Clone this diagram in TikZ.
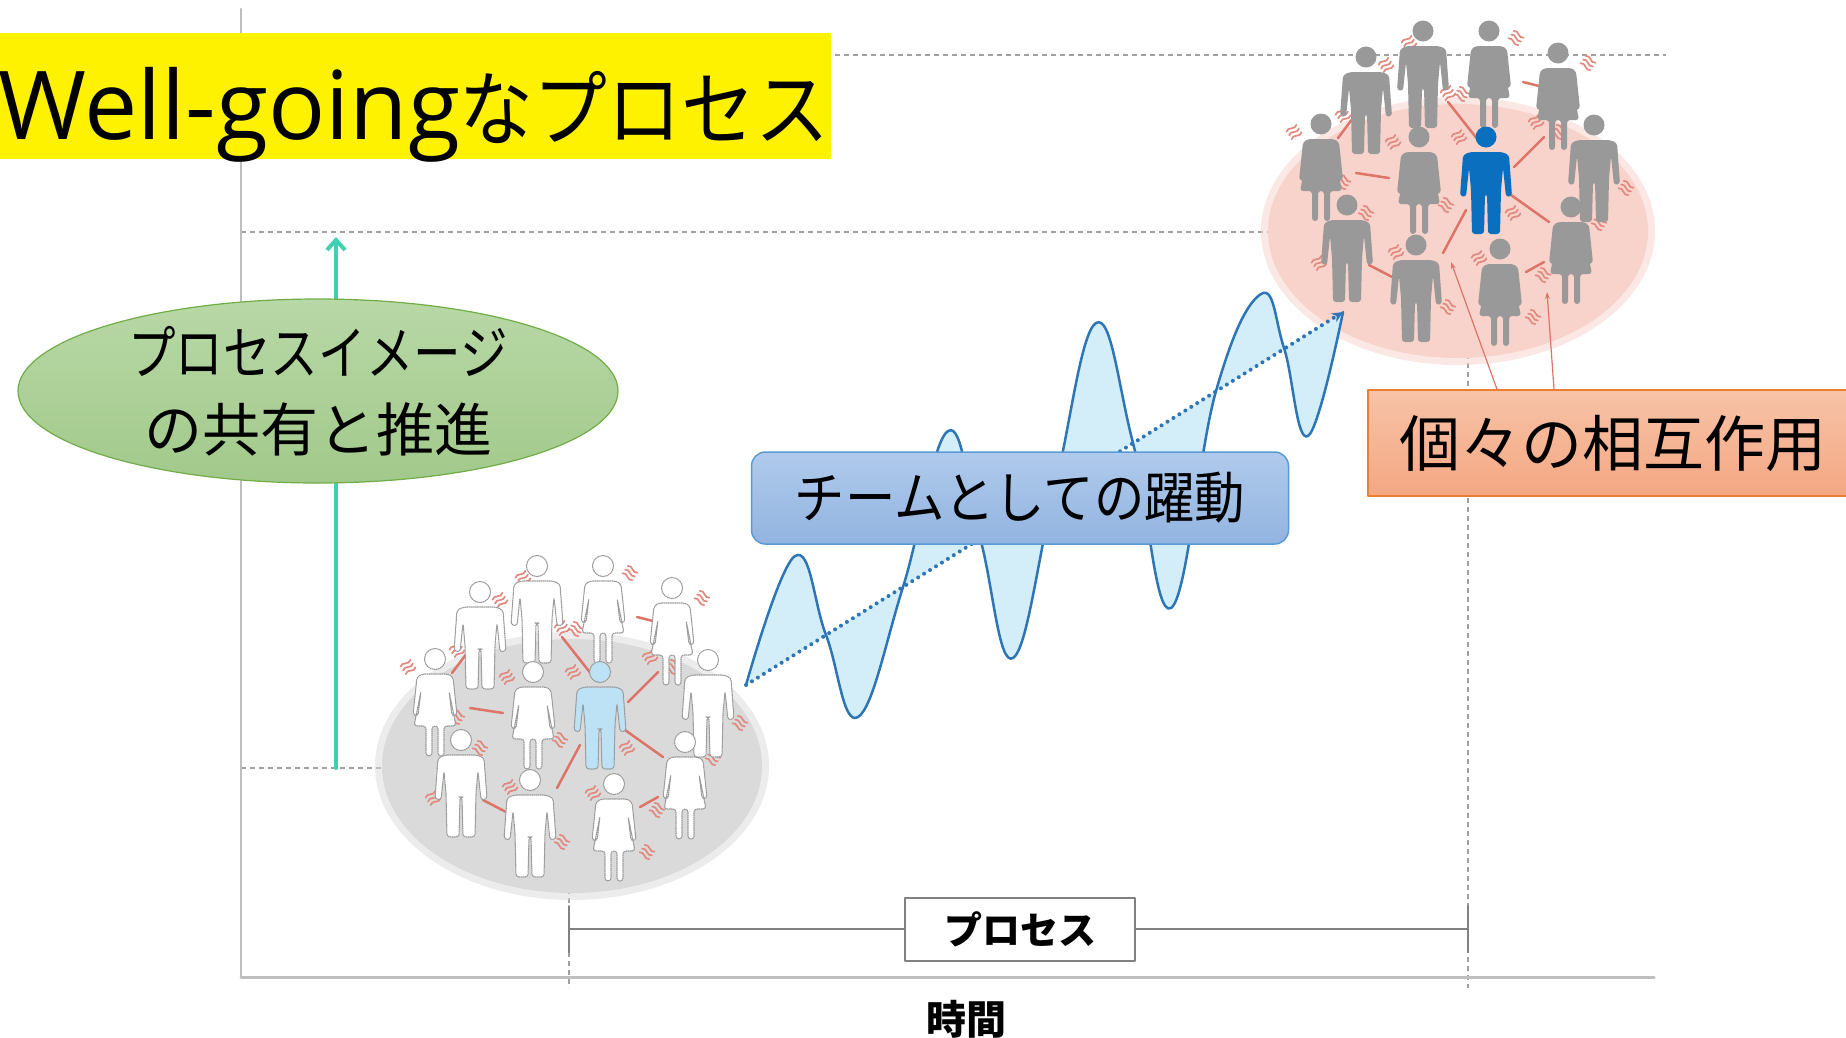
\documentclass[tikz,border=0pt]{standalone}
\usepackage{fontspec}
\setmainfont{Noto Sans CJK JP}
\newfontfamily\latinfont{Open Sans}
\usetikzlibrary{shapes.geometric,arrows.meta}
\definecolor{axisgray}{HTML}{BFBFBF}
\definecolor{dashgray}{HTML}{A0A0A0}
\definecolor{tealup}{HTML}{3FD0B0}
\definecolor{waveblue}{HTML}{2E75B6}
\definecolor{wavefill}{HTML}{D3EEF9}
\definecolor{crowdgray}{HTML}{DADADA}
\definecolor{crowdpink}{HTML}{F8D3CB}
\definecolor{figgray}{HTML}{999999}
\definecolor{figblue}{HTML}{0B6FC0}
\definecolor{figlight}{HTML}{BDE1F5}
\definecolor{figline}{HTML}{9A9A9A}
\definecolor{linkred}{HTML}{DC7468}
\definecolor{ideaedge}{HTML}{70AD47}
\definecolor{ideatop}{HTML}{B8D8A6}
\definecolor{ideabot}{HTML}{A2C98B}
\definecolor{teamedge}{HTML}{5B9BD5}
\definecolor{teamtop}{HTML}{B0CAEC}
\definecolor{teambot}{HTML}{92B4E0}
\definecolor{interedge}{HTML}{ED7D31}
\definecolor{intertop}{HTML}{F7C3A7}
\definecolor{interbot}{HTML}{F4A783}
\begin{document}
\begin{tikzpicture}[x=1pt,y=-1pt,>=stealth,line join=round,line cap=round,
	axis/.style={axisgray,line width=2.5},
	guide/.style={dashgray,line width=1.5,dash pattern=on 5pt off 4pt,line cap=butt},
	link/.style={linkred,line width=2.5},
	buzz line/.style={linkred!85,line width=1.7},
	bracket/.style={gray,line width=2},
	idea/.style={ellipse,draw=ideaedge,line width=1.2,top color=ideatop,bottom color=ideabot,minimum width=600,minimum height=184,inner sep=0,align=center,font=\fontsize{58}{77}\selectfont},
	team/.style={rectangle,rounded corners=14,draw=teamedge,line width=1.5,top color=teamtop,bottom color=teambot,minimum width=537,minimum height=92,font=\fontsize{56}{56}\selectfont},
	inter/.style={rectangle,draw=interedge,line width=1.5,top color=intertop,bottom color=interbot,minimum width=490,minimum height=106,font=\fontsize{61}{61}\selectfont},
	proc/.style={rectangle,draw=gray,line width=2,fill=white,minimum width=230,minimum height=63,font=\fontsize{38}{38}\selectfont\bfseries},
	man/.pic={
		\path[pic actions] (0,-1) circle (10.5pt);
		\path[pic actions,rounded corners=3pt] (-16,14) -- (16,14) -- (23,17) -- (26,58) -- (20,59) -- (17,30) -- (15,52) -- (14,96) -- (2,96) -- (1,56) -- (-1,56) -- (-2,96) -- (-14,96) -- (-15,52) -- (-17,30) -- (-20,59) -- (-26,58) -- (-23,17) -- cycle;
	},
	woman/.pic={
		\path[pic actions] (0,-1) circle (10.5pt);
		\path[pic actions,rounded corners=3pt] (-13,14) -- (13,14) -- (18,17) -- (22,55) -- (17,56) -- (14,31) -- (21,66) -- (9,66) -- (9,96) -- (3,96) -- (3,66) -- (-3,66) -- (-3,96) -- (-9,96) -- (-9,66) -- (-21,66) -- (-14,31) -- (-17,56) -- (-22,55) -- (-18,17) -- cycle;
	},
	buzz/.pic={
		\foreach \i in {-4.5,0,4.5} \draw[buzz line] (-6,\i) .. controls (-2,\i-4) and (2,\i+4) .. (6,\i);
	}]
	\useasboundingbox (0,0) rectangle (1846,1037);
	\fill[white] (0,0) rectangle (1846,1037);
	\clip (0,0) rectangle (1846,1037);
	%\draw[gray!20] (0,0) grid[step=100] (1846,1037);
	% nhóm người: #1 tâm, #2 nền, #3 kiểu người, #4 người ở giữa
	\def\crowd#1#2#3#4{
		\begin{scope}[shift={#1}]
			\fill[#2,opacity=.5] (-28,93) ellipse (197 and 134);
			\fill[#2] (-28,93) ellipse (190 and 127);
			\foreach \a/\b/\c/\d in {-38/-36/-8/2, 37/-56/57/-51, -148/0/-133/-20, -130/35/-97/40, 28/29/58/-1, 25/57/63/84, -43/115/-20/72, -117/127/-92/140, 40/134/58/124}
			\draw[link] (\a,\b) -- (\c,\d);
			\foreach \a/\b/\r in {-77/-95/35, -100/-73/35, 30/-100/-35, 102/-75/-35, -38/-45/35, -24/-44/-35, -143/-23/35, -192/-6/35, -93/4/35, -27/-1/35, 50/-16/35, 73/-6/-35, -143/44/-35, -40/67/-35, 27/75/35, 140/50/-35, 113/85/-35, -120/75/-35, -167/125/35, -90/114/35, -7/120/35, 57/137/-35, -38/169/-35, 47/179/-35}
			\pic[rotate=\r] at (\a,\b) {buzz};
			\foreach \a/\b in {-120/-80, -63/-106, 108/-12, -139/68, -70/108}
			\pic[#3] at (\a,\b) {man};
			\foreach \a/\b in {3/-106, 72/-84, -165/-13, -67/0, 14/112, 85/70}
			\pic[#3] at (\a,\b) {woman};
			\pic[#4] at (0,0) {man};
		\end{scope}}
	% trục và các đường gióng
	\draw[guide] (241,55) -- (1666,55);
	\draw[guide] (241,232) -- (1400,232);
	\draw[guide] (241,768) -- (450,768);
	\draw[guide] (1468,300) -- (1468,988);
	\draw[guide] (569,880) -- (569,988);
	\draw[axis] (241,9) -- (241,977);
	\draw[axis,line width=3] (241,977) -- (1654,977);
	% mũi tên đi lên
	\coordinate (low) at (336,768);
	\coordinate (high) at (336,237);
	\draw[tealup,line width=4,-{Straight Barb[length=10pt,width=18pt]}] (low) -- (high);
	% hai nhóm
	\crowd{(600,673)}{crowdgray}{draw=figline,densely dotted,line width=1.1,fill=white}{draw=figline,densely dotted,line width=1.1,fill=figlight}
	\crowd{(1486,138)}{crowdpink}{fill=figgray}{fill=figblue}
	% sóng
	\fill[wavefill] plot[smooth,tension=0.7] coordinates {(746,685) (795,556) (826,635) (858,717) (903,587) (948,431) (980,538) (1013,658) (1054,492) (1096,323) (1133,443) (1171,608) (1216,391) (1261,294) (1284,348) (1308,436) (1343,312)} -- cycle;
	\draw[waveblue,line width=2.5] plot[smooth,tension=0.7] coordinates {(746,685) (795,556) (826,635) (858,717) (903,587) (948,431) (980,538) (1013,658) (1054,492) (1096,323) (1133,443) (1171,608) (1216,391) (1261,294) (1284,348) (1308,436) (1343,312)};
	\coordinate (w0) at (746,685);
	\coordinate (w1) at (1343,312);
	\draw[waveblue,line width=4,dash pattern=on 0pt off 7pt,-{Stealth[length=11pt,width=10pt]}] (w0) -- (w1);
	% tiêu đề
	\fill[yellow] (0,33) rectangle (831,159);
	\node[anchor=base west,inner sep=0] (title) at (-2,139) {{\fontsize{95}{95}\latinfont Well-going}{\fontsize{82}{82}\selectfont\scalebox{0.9}[1]{なプロセス}}};
	% các nhãn
	\node[idea] (image) at (318,391) {\scalebox{0.82}[1]{プロセスイメージ}\\の共有と推進};
	\node[team] (team) at (1020,498) {\scalebox{0.9}[1]{チームとしての躍動}};
	\node[inter] (inter) at (1613,443) {個々の相互作用};
	\coordinate (p1) at (1451,262);
	\coordinate (p2) at (1547,292);
	\draw[linkred,line width=1.2,-{Stealth[length=7pt,width=5pt]}] ([xshift=-116pt]inter.north) -- (p1);
	\draw[linkred,line width=1.2,-{Stealth[length=7pt,width=5pt]}] ([xshift=-59pt]inter.north) -- (p2);
	% khoảng thời gian
	\coordinate (t0) at (569,929);
	\coordinate (t1) at (1468,929);
	\node[proc] (proc) at (1020,929) {プロセス};
	\draw[bracket] (t0) -- (proc.west) (proc.east) -- (t1);
	\draw[bracket] (569,906) -- (569,952) (1468,906) -- (1468,952);
	\node[anchor=base,font=\fontsize{40}{40}\selectfont\bfseries] (time) at (966,1034) {時間};
\end{tikzpicture}
\end{document}
